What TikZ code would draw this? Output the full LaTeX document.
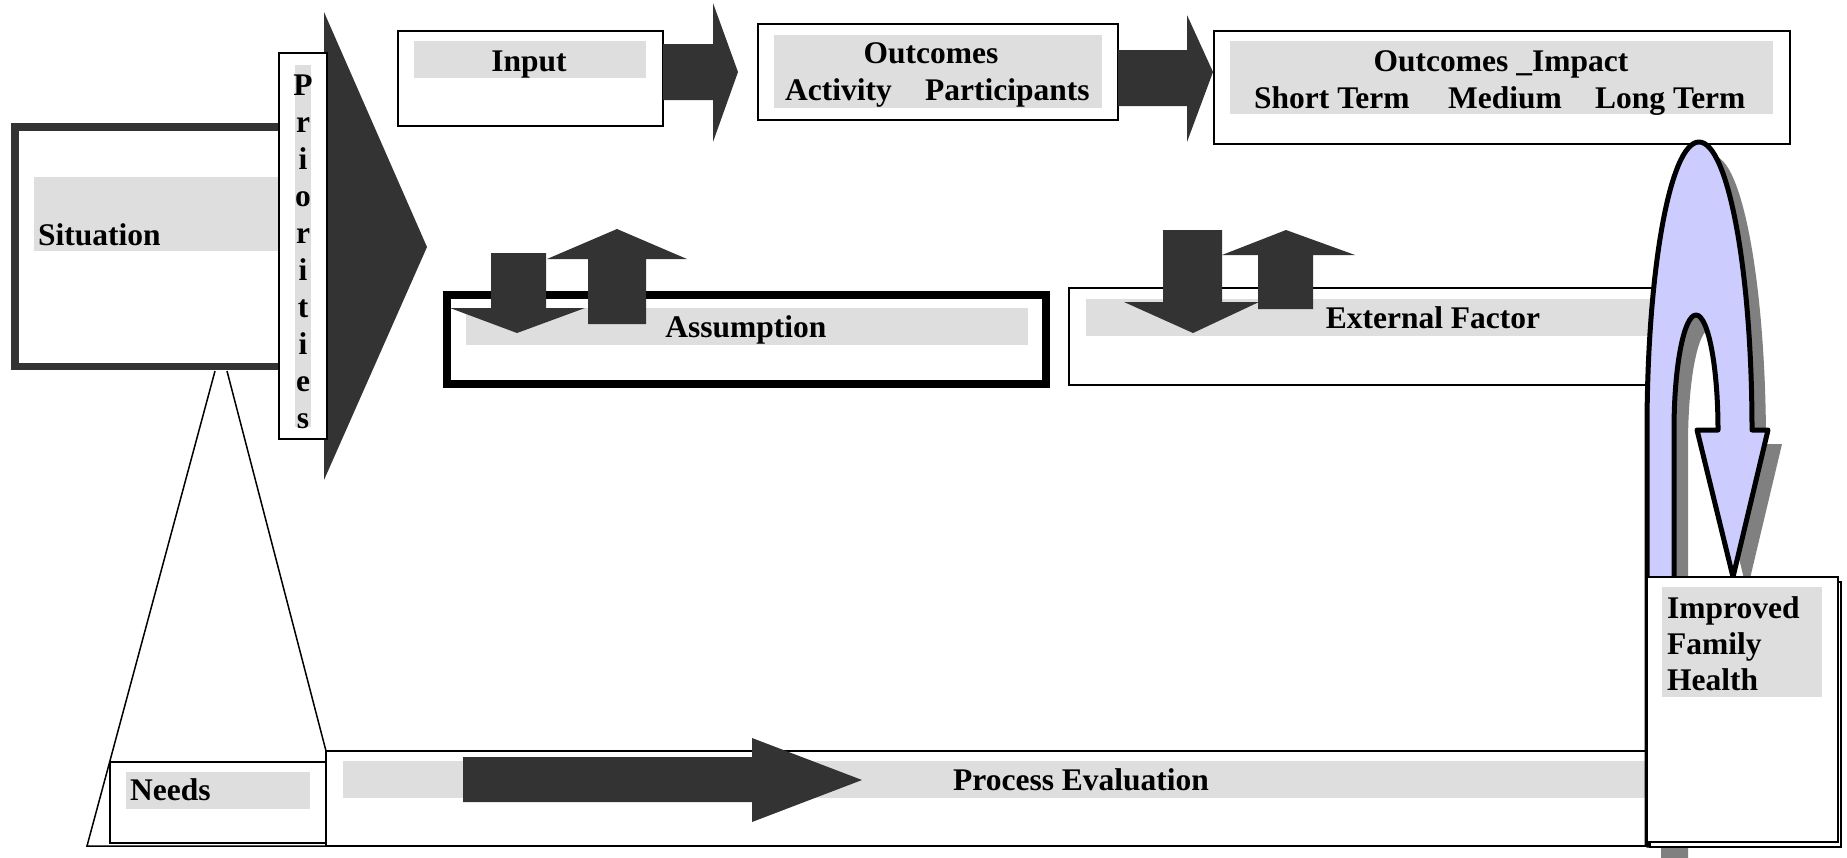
\documentclass[tikz,border=0pt]{standalone}
\usepackage{fontspec}
\setmainfont{Liberation Serif}
\definecolor{dk}{HTML}{333333}
\definecolor{hl}{HTML}{DEDEDE}
\definecolor{lav}{HTML}{CCCCFF}
\definecolor{shd}{HTML}{808080}
\tikzset{
  thinbox/.style={draw=black, line width=1.5pt, fill=white},
  hlband/.style={fill=hl},
  blk/.style={fill=dk},
  lbl/.style={font=\fontsize{31.5}{37}\selectfont\bfseries, inner sep=0pt, text=black},
}
\begin{document}
\begin{tikzpicture}[x=1pt,y=-1pt]
\useasboundingbox[fill=white] (0,0) rectangle (1847,857);

% ---- Situation easel
\draw[dk, line width=7.5pt, fill=white] (15,127) rectangle (292,366.5);
\fill[hlband] (34,177) rectangle (285,251);
\node[lbl, anchor=base west] (situation) at (38,245) {Situation};
\draw[line width=1.5pt] (215,371) -- (87,846) -- (326,846);
\draw[line width=1.5pt] (227,371) -- (326,751);

% ---- Priorities
\fill[blk] (324,12) -- (427,247) -- (324,480) -- cycle;
\draw[thinbox] (279,53) rectangle (327,439);
\fill[hlband] (295,65) rectangle (311,427);
\foreach \c [count=\i] in {P,r,i,o,r,i,t,i,e,s}
  \node[lbl, anchor=base] (pr\i) at (303,{95+37*(\i-1)}) {\c};

% ---- Input
\draw[thinbox] (398,31) rectangle (663,126);
\fill[hlband] (414,41) rectangle (646,78);
\node[lbl, anchor=base] (input) at (529,71) {Input};
\fill[blk] (663,44) -- (713,44) -- (713,3) -- (738,72) -- (713,142) -- (713,100) -- (663,100) -- cycle;

% ---- Outcomes
\draw[thinbox] (758,24) rectangle (1118,120);
\fill[hlband] (774,35) rectangle (1102,108);
\node[lbl, anchor=base] (outcomes) at (931,63) {Outcomes};
\node[lbl, anchor=base west] (activity) at (785,100) {Activity};
\node[lbl, anchor=base west] (participants) at (925,100) {Participants};
\fill[blk] (1118,50) -- (1187,50) -- (1187,15) -- (1213,72) -- (1187,142) -- (1187,106) -- (1118,106) -- cycle;

% ---- Outcomes Impact
\draw[thinbox] (1214,31) rectangle (1790,144);
\fill[hlband] (1230,41) rectangle (1773,114);
\node[lbl, anchor=base] (impact) at (1501,71) {Outcomes \_Impact};
\node[lbl, anchor=base west] (short) at (1254,108) {Short Term};
\node[lbl, anchor=base west] (medium) at (1448,108) {Medium};
\node[lbl, anchor=base west] (long) at (1595,108) {Long Term};

% ---- Assumption
\draw[line width=7.5pt, fill=white] (447,295) rectangle (1046,384);
\fill[hlband] (466,308) rectangle (1028,345);
\node[lbl, anchor=base] (assumption) at (746,337) {Assumption};
\fill[blk] (491,253) -- (546,253) -- (546,308) -- (585,308) -- (517,333) -- (450,308) -- (491,308) -- cycle;
\fill[blk] (588,324) -- (588,259) -- (547,259) -- (617,229) -- (687,259) -- (646,259) -- (646,324) -- cycle;

% ---- External Factor
\draw[thinbox] (1069,288) rectangle (1665,385);
\fill[hlband] (1086,299) rectangle (1660,336);
\node[lbl, anchor=base] (external) at (1433,328) {External Factor};
\fill[blk] (1163,230) -- (1222,230) -- (1222,302) -- (1259,302) -- (1193,333) -- (1124,302) -- (1163,302) -- cycle;
\fill[blk] (1258,309) -- (1258,255) -- (1222,255) -- (1286,230) -- (1355,255) -- (1313,255) -- (1313,309) -- cycle;

% ---- Needs and Process Evaluation
\draw[line width=2pt, fill=white] (110,762) rectangle (326,843);
\fill[hlband] (126,772) rectangle (310,809);
\node[lbl, anchor=base west] (needs) at (130,800) {Needs};
\draw[line width=2.5pt, fill=white] (326,751) rectangle (1660,846);
\fill[hlband] (343,761) rectangle (1650,798);
\fill[blk] (463,757) -- (752,757) -- (752,738) -- (862,780) -- (752,822) -- (752,802) -- (463,802) -- cycle;
\node[lbl, anchor=base west] (process) at (953,790) {Process Evaluation};

% ---- U-turn arrow (shadow, then arrow)
\begin{scope}[shift={(14,14)}]
\fill[shd] (1647,860) -- (1647,430) .. controls (1647,271) and (1670,142) .. (1699,142)
  .. controls (1728,142) and (1752,271) .. (1752,430) -- (1768,430) -- (1733,577) -- (1697,430) -- (1718,430)
  .. controls (1718,366) and (1708,315) .. (1696,315) .. controls (1684,315) and (1674,366) .. (1674,430)
  -- (1674,860) -- cycle;
\end{scope}
\draw[line width=5pt, fill=lav, line join=round] (1647,845) -- (1647,430) .. controls (1647,271) and (1670,142) .. (1699,142)
  .. controls (1728,142) and (1752,271) .. (1752,430) -- (1768,430) -- (1733,577) -- (1697,430) -- (1718,430)
  .. controls (1718,366) and (1708,315) .. (1696,315) .. controls (1684,315) and (1674,366) .. (1674,430)
  -- (1674,845) -- cycle;

% ---- Improved Family Health
\draw[line width=1.2pt, fill=white] (1650,582) rectangle (1841,847);
\draw[line width=2pt, fill=white] (1647,577) rectangle (1838,842);
\fill[hlband] (1662,587) rectangle (1822,697);
\node[lbl, anchor=base west] (improved) at (1667,618) {Improved};
\node[lbl, anchor=base west] (family) at (1667,654) {Family};
\node[lbl, anchor=base west] (health) at (1667,690) {Health};
\end{tikzpicture}
\end{document}
